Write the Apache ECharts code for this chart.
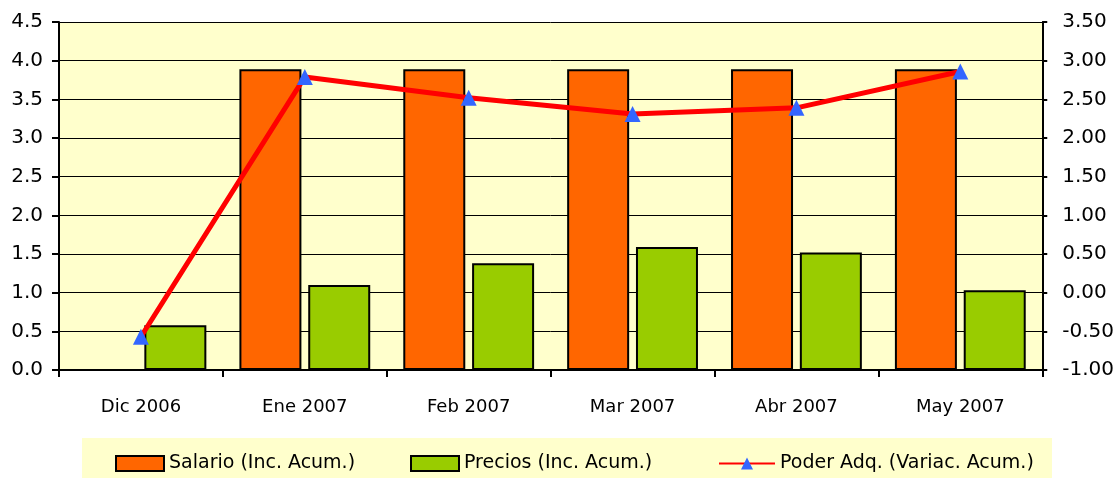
<!DOCTYPE html>
<html>
<head>
<meta charset="utf-8">
<script src="https://cdn.jsdelivr.net/npm/echarts@6/dist/echarts.min.js"></script>
<style>html,body{margin:0;padding:0;background:#fff}#c{width:1117px;height:478px}</style>
</head>
<body>
<div id="c"></div>
<script>
const categories = ['Dic 2006', 'Ene 2007', 'Feb 2007', 'Mar 2007', 'Abr 2007', 'May 2007'];
const salario = [null, 3.89, 3.89, 3.89, 3.89, 3.89];
const precios = [0.58, 1.10, 1.38, 1.59, 1.52, 1.03];
const poderAdq = [-0.57, 2.79, 2.52, 2.31, 2.39, 2.86];
const leftTicks = ['0.0','0.5','1.0','1.5','2.0','2.5','3.0','3.5','4.0','4.5'];
const rightTicks = ['-1.00','-0.50','0.00','0.50','1.00','1.50','2.00','2.50','3.00','3.50'];
const seriesNames = ['Salario (Inc. Acum.)', 'Precios (Inc. Acum.)', 'Poder Adq. (Variac. Acum.)'];
const titleText = 'Canasta de Salario Real';

const font = 'DejaVu Sans, sans-serif';
const legendText = {fontFamily: font, fontSize: 19, color: '#000'};
const chart = echarts.init(document.getElementById('c'), null, {renderer: 'canvas'});
chart.setOption({
  animation: false,
  backgroundColor: '#fff',
  title: {
    text: titleText, left: 462, top: -20,
    textStyle: {fontFamily: font, fontSize: 19, fontWeight: 'bold', color: '#444'}
  },
  graphic: [{
    type: 'rect', left: 82, top: 438, z: -1,
    shape: {width: 970, height: 40},
    style: {fill: '#FFFFCC'}
  }],
  grid: {
    left: 59, right: 74, top: 22, bottom: 108,
    show: true, backgroundColor: '#FFFFCC', borderWidth: 0
  },
  legend: [
    {left: 110, top: 449, icon: 'rect', itemWidth: 48, itemHeight: 15, textStyle: legendText, data: [seriesNames[0]]},
    {left: 405, top: 449, icon: 'rect', itemWidth: 48, itemHeight: 15, textStyle: legendText, data: [seriesNames[1]]},
    {left: 713, top: 449, itemWidth: 56, itemHeight: 15, textStyle: legendText, data: [seriesNames[2]]}
  ],
  xAxis: {
    type: 'category', data: categories,
    axisLine: {lineStyle: {color: '#000', width: 2}},
    axisTick: {show: true, length: 7, lineStyle: {color: '#000', width: 2}},
    axisLabel: {fontFamily: font, fontSize: 18, color: '#000', margin: 28}
  },
  yAxis: [{
    type: 'value', min: 0, max: 4.5, interval: 0.5,
    axisLine: {show: true, lineStyle: {color: '#000', width: 2}},
    axisTick: {show: true, length: 7, lineStyle: {color: '#000', width: 2}},
    axisLabel: {fontFamily: font, fontSize: 20, color: '#000', margin: 16,
      formatter: (v) => leftTicks[Math.round(v / 0.5)]},
    splitLine: {show: true, lineStyle: {color: '#000', width: 1}}
  }, {
    type: 'value', min: -1, max: 3.5, interval: 0.5,
    axisLine: {show: true, lineStyle: {color: '#000', width: 2}},
    axisTick: {show: true, length: 5, lineStyle: {color: '#000', width: 2}},
    axisLabel: {fontFamily: font, fontSize: 20, color: '#000', margin: 20,
      formatter: (v) => rightTicks[Math.round((v + 1) / 0.5)]},
    splitLine: {show: false}
  }],
  series: [{
    name: seriesNames[0], type: 'bar', data: salario,
    barWidth: 62, barGap: '11%', barCategoryGap: '20%',
    itemStyle: {color: '#FF6600', borderColor: '#000', borderWidth: 2}
  }, {
    name: seriesNames[1], type: 'bar', data: precios,
    barWidth: 62, barGap: '11%',
    itemStyle: {color: '#99CC00', borderColor: '#000', borderWidth: 2}
  }, {
    name: seriesNames[2], type: 'line', yAxisIndex: 1, data: poderAdq,
    symbol: 'triangle', symbolSize: 16,
    lineStyle: {color: '#FF0000', width: 5},
    itemStyle: {color: '#3366FF'},
    z: 5
  }]
});
</script>
</body>
</html>
